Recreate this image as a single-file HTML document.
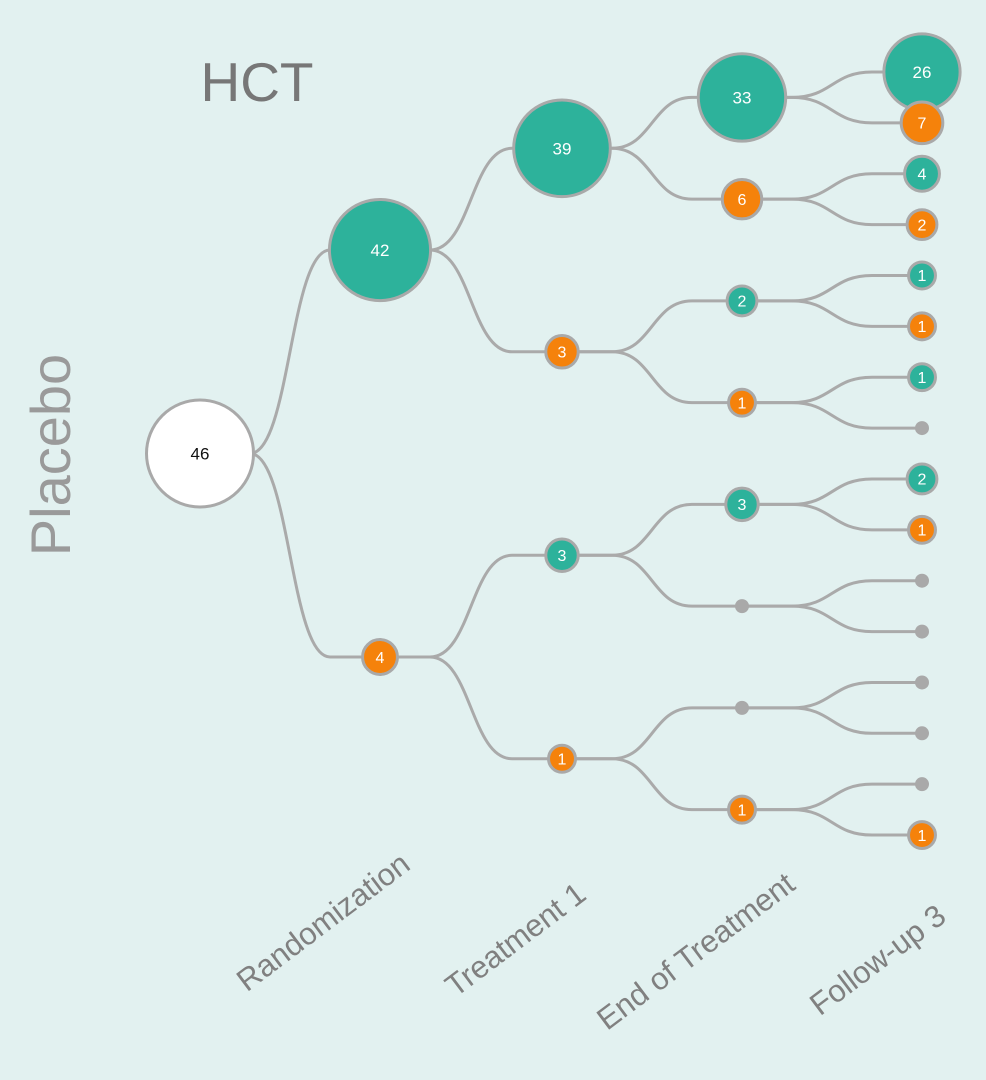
<!DOCTYPE html>
<html><head><meta charset="utf-8"><style>
html,body{margin:0;padding:0;background:#e2f1f0;}
svg{display:block;font-family:"Liberation Sans",sans-serif;}
</style></head><body>
<svg id="chart" width="986" height="1080" viewBox="0 0 986 1080">
<rect width="986" height="1080" fill="#e2f1f0"/>
<text x="257" y="101" font-size="55" fill="#777" text-anchor="middle">HCT</text>
<text transform="translate(70,455) rotate(-90)" font-size="56" fill="#9a9a9a" text-anchor="middle">Placebo</text>
<g id="links"></g><g id="nodes"></g><g id="labels"></g>
</svg>
<script>
const stageLabels = ["Randomization","Treatment 1","End of Treatment","Follow-up 3"];
const rootValue = 46;
const level1 = [42,4];
const level2 = [39,3,3,1];
const level3 = [33,6,2,1,3,0,0,1];
const level4 = [26,7,4,2,1,1,1,0,2,1,0,0,0,0,0,1];
const levels = [[rootValue], level1, level2, level3, level4];
const NS = "http://www.w3.org/2000/svg";
const levelX = [200,380,562,742,922];
const leafTop = 72, leafStep = 50.87;
function rad(n){ if(n===0) return 8; return 13 + 42*Math.pow(n/46,0.8); }
const ys = [];
ys[4] = level4.map((v,i)=>leafTop+i*leafStep);
for(let l=3;l>=0;l--){ ys[l]=levels[l].map((v,i)=>(ys[l+1][2*i]+ys[l+1][2*i+1])/2); }
const links=document.getElementById('links'), nodes=document.getElementById('nodes'), labels=document.getElementById('labels');
for(let l=1;l<5;l++){
  levels[l].forEach((v,i)=>{
    const p=Math.floor(i/2), x1=levelX[l-1], y1=ys[l-1][p], x2=levelX[l], y2=ys[l][i];
    const a=x1+50, b=x2-50, m=(a+b)/2;
    const path=document.createElementNS(NS,'path');
    path.setAttribute('d',`M${x1},${y1} L${a},${y1} C${m},${y1} ${m},${y2} ${b},${y2} L${x2},${y2}`);
    path.setAttribute('fill','none');path.setAttribute('stroke','#aaaaaa');path.setAttribute('stroke-width','3');
    
    
    links.appendChild(path);
  });
}
levels.forEach((arr,l)=>{
  arr.forEach((v,i)=>{
    const x=levelX[l], y=ys[l][i], r=rad(v);
    let fill = l===0 ? '#ffffff' : (v===0 ? '#a9a9a9' : (i%2===0 ? '#2db29b' : '#f5820b'));
    const c=document.createElementNS(NS,'circle');
    c.setAttribute('cx',x);c.setAttribute('cy',y);c.setAttribute('r',v===0?7:r-1.5);
    c.setAttribute('fill',fill);c.setAttribute('stroke','#a9a9a9');c.setAttribute('stroke-width',v===0?0:3);
    
    
    nodes.appendChild(c);
    if(v>0){
      const t=document.createElementNS(NS,'text');
      const fs = r>30?17:16;
      t.setAttribute('x',x);t.setAttribute('y',y+fs*0.36);t.setAttribute('text-anchor','middle');
      t.setAttribute('font-size',fs);t.setAttribute('fill',l===0?'#111':'#ffffff');
      t.textContent=v;
      
      
      nodes.appendChild(t);
    }
  });
});
const labelEnds=[[412,868],[588,898],[797,888],[948,920]];
stageLabels.forEach((s,i)=>{
  const t=document.createElementNS(NS,'text');
  t.setAttribute('transform',`translate(${labelEnds[i][0]},${labelEnds[i][1]}) rotate(-37)`);
  t.setAttribute('text-anchor','end');t.setAttribute('font-size','31');t.setAttribute('fill','#808080');
  t.textContent=s;
  
  
  labels.appendChild(t);
});
</script>
</body></html>
